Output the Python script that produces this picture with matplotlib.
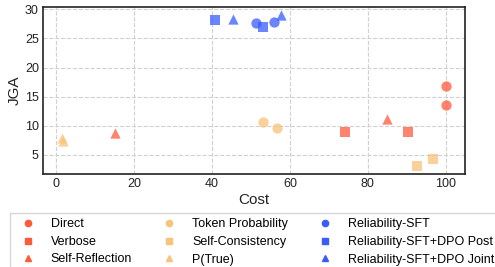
import matplotlib
matplotlib.use("Agg")
import matplotlib.pyplot as plt

plt.rcParams['font.family'] = ['Liberation Sans', 'DejaVu Sans']

methods = ["Direct", "Verbose", "Self-Reflection",
           "Token Probability", "Self-Consistency", "P(True)",
           "Reliability-SFT", "Reliability-SFT+DPO Post", "Reliability-SFT+DPO Joint"]
cost = [[100, 100], [74.1, 90.3], [15.0, 84.8],
        [53.0, 56.7], [92.6, 96.6], [1.5, 1.8],
        [51.2, 56.0], [40.8, 53.1], [45.3, 57.8]]
jga = [[16.9, 13.5], [9.0, 8.9], [8.7, 11.2],
       [10.7, 9.6], [3.0, 4.3], [7.9, 7.3],
       [27.6, 27.9], [28.1, 26.9], [28.4, 29.1]]

red = '#FF5A3C'
sand = '#F7C47A'
blue = '#3A5CFF'
colors = [red, red, red, sand, sand, sand, blue, blue, blue]
markers = ['o', 's', '^'] * 3

fig = plt.figure(figsize=(4.95, 2.67), dpi=100)
ax = fig.add_axes([43/495, 1-174/267, (465-43)/495, (174-7)/267])
ax.set_facecolor('white')
ax.grid(True, linestyle='--', color='#d0d0d0', linewidth=0.8)
ax.set_axisbelow(True)
for i, m in enumerate(methods):
    ax.scatter(cost[i], jga[i], marker=markers[i], s=55, color=colors[i],
               alpha=0.75, linewidths=0, label=m)
for s in ax.spines.values():
    s.set_color('#222222')
    s.set_linewidth(1.2)
ax.set_xlabel('Cost', fontsize=11, color='#222222', labelpad=2)
ax.set_ylabel('JGA', fontsize=11, color='#222222', labelpad=2)
ax.tick_params(labelsize=9, colors='#222222', length=0, pad=3)
ax.set_xticks([0, 20, 40, 60, 80, 100])
ax.set_yticks([5, 10, 15, 20, 25, 30])

handles = []
for i, m in enumerate(methods):
    h = plt.Line2D([], [], marker=markers[i], color=colors[i], linestyle='none',
                   markersize=4.5, alpha=1.0)
    handles.append(h)
leg = fig.legend(handles, methods, loc='upper left', bbox_to_anchor=(4/495, 1-207/267),
                 ncol=3, fontsize=9, frameon=True, handletextpad=0.85,
                 handlelength=2.0, columnspacing=1.95, labelspacing=0.45, borderpad=0.4,
                 fancybox=False, edgecolor='#cccccc')
fig.savefig('out.png', dpi=100)
